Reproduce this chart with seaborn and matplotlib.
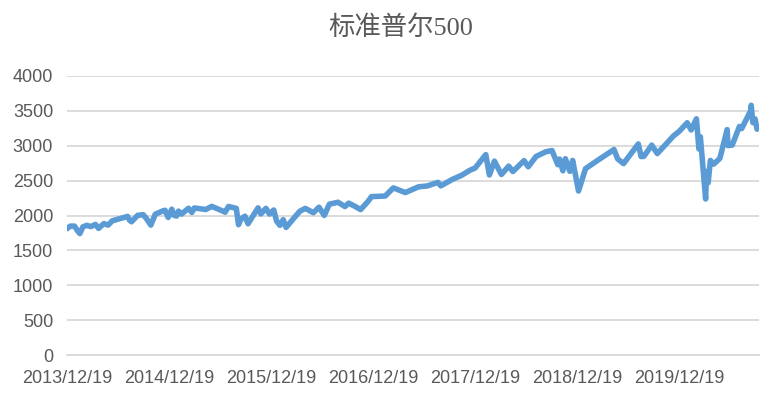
import numpy as np
import pandas as pd
import matplotlib
matplotlib.use("Agg")
import matplotlib.pyplot as plt
import seaborn as sns

# ── 数据─────────────────────────────────────────────────────
DATES = [
    "2013-12-19", "2013-12-31", "2014-01-15", "2014-01-24", "2014-02-03", "2014-02-14",
    "2014-02-28", "2014-03-14", "2014-03-31", "2014-04-11", "2014-04-30", "2014-05-15",
    "2014-05-30", "2014-06-30", "2014-07-24", "2014-07-31", "2014-08-07", "2014-08-29",
    "2014-09-18", "2014-10-01", "2014-10-15", "2014-10-31", "2014-11-28", "2014-12-05",
    "2014-12-16", "2014-12-29", "2015-01-06", "2015-01-15", "2015-01-22", "2015-02-02",
    "2015-02-27", "2015-03-11", "2015-03-20", "2015-04-30", "2015-05-21", "2015-06-30",
    "2015-07-08", "2015-07-20", "2015-08-17", "2015-08-25", "2015-09-03", "2015-09-17",
    "2015-09-28", "2015-11-03", "2015-11-13", "2015-12-01", "2015-12-14", "2015-12-29",
    "2016-01-08", "2016-01-20", "2016-02-01", "2016-02-11", "2016-03-31", "2016-04-20",
    "2016-05-19", "2016-06-08", "2016-06-27", "2016-07-15", "2016-08-15", "2016-09-09",
    "2016-09-22", "2016-10-14", "2016-11-04", "2016-11-30", "2016-12-13", "2017-01-31",
    "2017-03-01", "2017-04-13", "2017-05-31", "2017-06-30", "2017-08-08", "2017-08-18",
    "2017-09-29", "2017-10-31", "2017-11-30", "2017-12-19", "2018-01-26", "2018-02-08",
    "2018-02-26", "2018-03-23", "2018-04-18", "2018-05-03", "2018-06-12", "2018-06-27",
    "2018-07-25", "2018-08-29", "2018-09-20", "2018-10-11", "2018-10-17", "2018-10-29",
    "2018-11-07", "2018-11-23", "2018-12-03", "2018-12-24", "2019-01-18", "2019-02-28",
    "2019-04-30", "2019-05-13", "2019-06-03", "2019-07-26", "2019-08-05", "2019-08-15",
    "2019-09-12", "2019-10-02", "2019-11-29", "2019-12-19", "2020-01-17", "2020-01-31",
    "2020-02-19", "2020-02-28", "2020-03-04", "2020-03-12", "2020-03-13", "2020-03-23",
    "2020-03-26", "2020-04-01", "2020-04-09", "2020-04-21", "2020-05-13", "2020-06-08",
    "2020-06-11", "2020-06-26", "2020-07-22", "2020-07-30", "2020-08-31", "2020-09-02",
    "2020-09-08", "2020-09-16", "2020-09-23", "2020-09-30",
]
SPX = [
    1810, 1848, 1848, 1790, 1741, 1838,
    1859, 1841, 1872, 1815, 1884, 1862,
    1924, 1960, 1987, 1931, 1910, 2003,
    2011, 1946, 1862, 2018, 2068, 2075,
    1972, 2090, 2002, 1992, 2063, 2020,
    2104, 2044, 2108, 2086, 2131, 2063,
    2047, 2129, 2102, 1868, 1951, 1990,
    1882, 2110, 2023, 2102, 2021, 2079,
    1922, 1859, 1940, 1829, 2060, 2102,
    2040, 2119, 2001, 2162, 2190, 2128,
    2177, 2133, 2085, 2199, 2271, 2279,
    2396, 2329, 2412, 2423, 2475, 2425,
    2519, 2575, 2648, 2681, 2873, 2581,
    2780, 2588, 2708, 2630, 2787, 2699,
    2846, 2914, 2931, 2728, 2809, 2641,
    2814, 2633, 2790, 2351, 2671, 2784,
    2946, 2812, 2744, 3026, 2845, 2848,
    3009, 2888, 3141, 3205, 3330, 3226,
    3386, 2954, 3130, 2741, 2711, 2237,
    2630, 2470, 2790, 2737, 2820, 3232,
    3002, 3009, 3276, 3246, 3500, 3580,
    3332, 3385, 3237, 3260,
]
TICK_DATES = ["2013-12-19", "2014-12-19", "2015-12-19", "2016-12-19",
              "2017-12-19", "2018-12-19", "2019-12-19"]
TICK_LABELS = ["2013/12/19", "2014/12/19", "2015/12/19", "2016/12/19",
               "2017/12/19", "2018/12/19", "2019/12/19"]
Y_TICKS = [0, 500, 1000, 1500, 2000, 2500, 3000, 3500, 4000]

BLUE = "#5B9BD5"
GRID = "#D9D9D9"
TXT = "#595959"

sns.set_style("white")
plt.rcParams["font.family"] = ["Liberation Sans", "Noto Sans CJK SC", "DejaVu Sans"]

df = pd.DataFrame({"date": pd.to_datetime(DATES), "spx": SPX})

fig = plt.figure(figsize=(7.82, 4.04), dpi=100)
ax = fig.add_axes([67 / 782, 1 - 355 / 404, (759 - 67) / 782, (355 - 76) / 404])

sns.lineplot(data=df, x="date", y="spx", ax=ax, color=BLUE, lw=4.0,
             solid_joinstyle="round", solid_capstyle="round")

ax.set_ylim(0, 4000)
ax.set_yticks(Y_TICKS)
ax.set_xlim(pd.Timestamp("2013-12-19"), pd.Timestamp("2020-09-30"))
ax.set_xticks(pd.to_datetime(TICK_DATES))
ax.set_xticklabels(TICK_LABELS)
ax.set_xlabel(""); ax.set_ylabel("")

ax.yaxis.grid(True, color=GRID, lw=1.3)
ax.set_axisbelow(True)
for s in ["top", "right", "left"]:
    ax.spines[s].set_visible(False)
ax.spines["bottom"].set_color(GRID)
ax.spines["bottom"].set_linewidth(1.3)
ax.tick_params(axis="x", direction="out", length=3.8, width=1.2, color=GRID,
               labelsize=13, labelcolor=TXT, pad=7)
ax.tick_params(axis="y", length=0, labelsize=13, labelcolor=TXT, pad=10)

fig.text(0.512, 1 - 28 / 404, "标准普尔500", ha="center", va="center", fontsize=19,
         color=TXT, family=["Liberation Serif", "Noto Sans CJK SC", "DejaVu Sans"])

fig.savefig("out.png", dpi=100)
plt.close(fig)
